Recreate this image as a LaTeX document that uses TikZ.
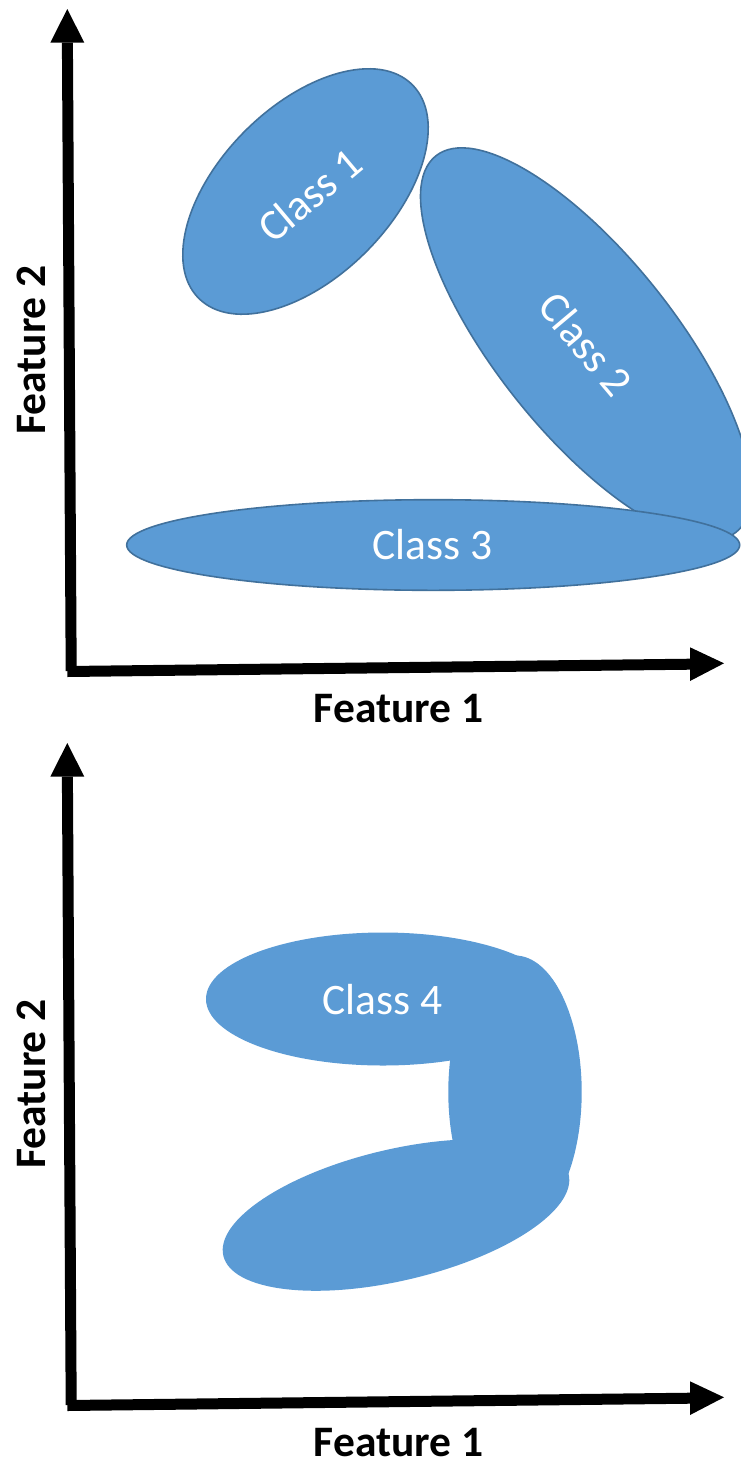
\documentclass[tikz,border=0pt]{standalone}
\usepackage{fontspec}
\setmainfont{Carlito}
\usetikzlibrary{shapes.geometric}
\definecolor{clsfill}{HTML}{5B9BD5}
\definecolor{clsline}{HTML}{41719C}
\begin{document}
\begin{tikzpicture}[x=1pt,y=-1pt,
  cls/.style={ellipse, fill=clsfill, draw=clsline, line width=1.6pt, inner sep=0pt, outer sep=0pt},
  blob/.style={ellipse, fill=clsfill, inner sep=0pt, outer sep=0pt},
  clslabel/.style={text=white, font=\fontsize{43.5}{50}\selectfont, inner sep=0pt},
  axlabel/.style={font=\bfseries\fontsize{43.5}{50}\selectfont, inner sep=0pt, anchor=base},
  axline/.style={line width=11pt, line cap=butt},
  axhead/.style={fill=black}]
\clip (0,0) rectangle (741,1465);
\fill[white] (0,0) rectangle (741,1465);

% ---------- top panel ----------
\node[cls, minimum width=302pt, minimum height=171pt, rotate=45] (c1) at (305.5,191.5) {};
\node[cls, minimum width=481.4pt, minimum height=177.8pt, rotate=-51.4] (c2) at (586,344) {};
\node[cls, minimum width=613pt, minimum height=90.6pt] (c3) at (433.2,545) {};
\node[clslabel, rotate=40] (t1) at (309.5,195) {Class 1};
\node[clslabel, rotate=-50] (t2) at (586,344) {Class 2};
\node[clslabel, anchor=base] (t3) at (432.7,559.3) {Class 3};

\begin{scope}
  \coordinate (ya0) at (71.2,671);
  \coordinate (ya1) at (67.4,42.7);
  \coordinate (yal) at (50.3,42.7);
  \coordinate (yar) at (84.3,42.7);
  \coordinate (yat) at (67.3,9);
  \draw[axline] (ya0) -- (ya1);
  \fill[axhead] (yal) -- (yar) -- (yat) -- cycle;
  \coordinate (xa0) at (67.3,671.5);
  \coordinate (xa1) at (690,664.2);
  \coordinate (xal) at (690,647.3);
  \coordinate (xar) at (690,681);
  \coordinate (xat) at (724,663.3);
  \draw[axline] (xa0) -- (xa1);
  \fill[axhead] (xal) -- (xar) -- (xat) -- cycle;
  \node[axlabel] (f1a) at (398.5,722.7) {Feature 1};
  \node[axlabel, rotate=90] (f2a) at (45.5,350) {Feature 2};
\end{scope}

% ---------- bottom panel ----------
\node[blob, minimum width=354pt, minimum height=133pt] (c4a) at (383,999) {};
\node[blob, minimum width=133.4pt, minimum height=273pt] (c4b) at (515,1092) {};
\node[blob, minimum width=354.8pt, minimum height=131.2pt, rotate=13.3] (c4c) at (396,1215) {};
\node[clslabel, anchor=base] (t4) at (382.5,1014) {Class 4};

\begin{scope}[shift={(0,734)}]
  \coordinate (yb0) at (71.2,671);
  \coordinate (yb1) at (67.4,42.7);
  \coordinate (ybl) at (50.3,42.7);
  \coordinate (ybr) at (84.3,42.7);
  \coordinate (ybt) at (67.3,9);
  \draw[axline] (yb0) -- (yb1);
  \fill[axhead] (ybl) -- (ybr) -- (ybt) -- cycle;
  \coordinate (xb0) at (67.3,671.5);
  \coordinate (xb1) at (690,664.2);
  \coordinate (xbl) at (690,647.3);
  \coordinate (xbr) at (690,681);
  \coordinate (xbt) at (724,663.3);
  \draw[axline] (xb0) -- (xb1);
  \fill[axhead] (xbl) -- (xbr) -- (xbt) -- cycle;
  \node[axlabel] (f1b) at (398.5,722.7) {Feature 1};
  \node[axlabel, rotate=90] (f2b) at (45.5,350) {Feature 2};
\end{scope}
\end{tikzpicture}
\end{document}
